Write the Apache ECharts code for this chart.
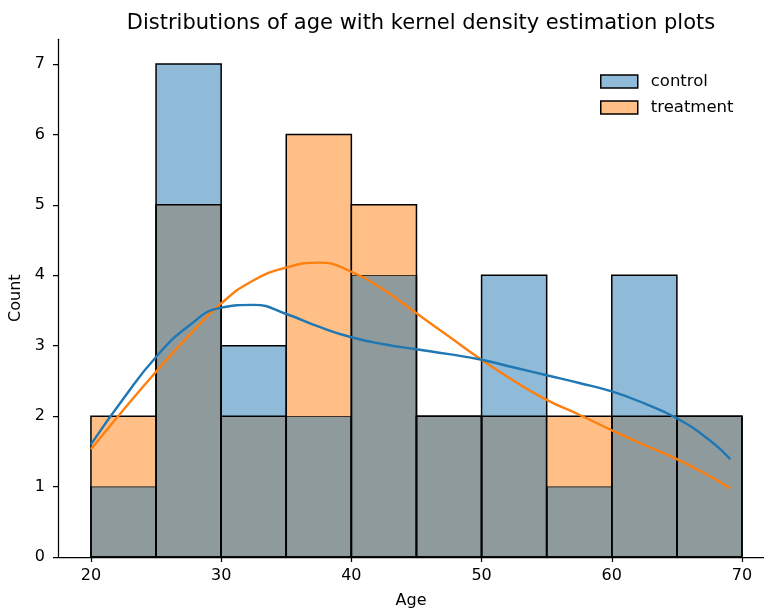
<!DOCTYPE html>
<html>
<head>
<meta charset="utf-8">
<script src="https://cdn.jsdelivr.net/npm/echarts@6/dist/echarts.min.js"></script>
<style>
  html, body { margin: 0; padding: 0; background: #fff; }
  #chart { width: 764px; height: 610px; }
</style>
</head>
<body>
<div id="chart"></div>
<script>
// histogram bins (age, width 5)
const binStarts = [20, 25, 30, 35, 40, 45, 50, 55, 60, 65];
const binWidth = 5;
const controlCounts = [1, 7, 3, 2, 4, 2, 4, 1, 4, 2];
const treatmentCounts = [2, 5, 2, 6, 5, 2, 2, 2, 2, 2];

// kernel density curves (scaled to counts)
const kdeAges = [20, 22.5, 25, 27.5, 30, 32.5, 35, 37.5, 40, 42.5, 45, 47.5, 50, 52.5, 55, 57.5, 60, 62.5, 65, 67.5, 69.1];
const controlKde = [1.60, 2.25, 2.84, 3.28, 3.54, 3.58, 3.45, 3.27, 3.12, 3.02, 2.95, 2.88, 2.80, 2.69, 2.58, 2.47, 2.35, 2.18, 1.97, 1.66, 1.39];
const treatmentKde = [1.53, 2.09, 2.63, 3.14, 3.60, 3.93, 4.11, 4.18, 4.05, 3.79, 3.46, 3.13, 2.80, 2.50, 2.23, 2.02, 1.80, 1.59, 1.39, 1.15, 0.975];

const yTicks = [0, 1, 2, 3, 4, 5, 6, 7];
const xTicks = [20, 30, 40, 50, 60, 70];

const BLUE = '#1f77b4', ORANGE = '#ff7f0e';
const BLUE_FILL = '#8fbbd9', ORANGE_FILL = '#ffbf86', BOTH_FILL = '#8e9a9b';
const FONT = 'DejaVu Sans';

const binData = binStarts.map((s, i) => [s, s + binWidth, controlCounts[i], treatmentCounts[i]]);

function rect(api, x0, x1, y0, y1, style) {
  const a = api.coord([x0, y1]);
  const b = api.coord([x1, y0]);
  return { type: 'rect', shape: { x: a[0], y: a[1], width: b[0] - a[0], height: b[1] - a[1] }, style: style };
}

function renderControl(params, api) {
  const x0 = api.value(0), x1 = api.value(1), c = api.value(2), t = api.value(3);
  const low = Math.min(c, t);
  const children = [rect(api, x0, x1, 0, low, { fill: BOTH_FILL })];
  if (c > t) children.push(rect(api, x0, x1, t, c, { fill: BLUE_FILL }));
  children.push(rect(api, x0, x1, 0, c, { fill: 'none', stroke: '#000', lineWidth: 1.5 }));
  return { type: 'group', children: children };
}

function renderTreatment(params, api) {
  const x0 = api.value(0), x1 = api.value(1), c = api.value(2), t = api.value(3);
  const children = [];
  if (t > c) children.push(rect(api, x0, x1, c, t, { fill: ORANGE_FILL }));
  children.push(rect(api, x0, x1, 0, t, { fill: 'none', stroke: '#000', lineWidth: 1.5 }));
  return { type: 'group', children: children };
}

const chart = echarts.init(document.getElementById('chart'));

const option = {
  animation: false,
  backgroundColor: '#fff',
  title: {
    text: 'Distributions of age with kernel density estimation plots',
    left: 416,
    top: 8,
    textAlign: 'center',
    textStyle: { fontFamily: FONT, fontSize: 21, fontWeight: 'normal', color: '#000' }
  },
  legend: {
    left: 600,
    top: 73,
    padding: 0,
    orient: 'vertical',
    itemWidth: 37,
    itemHeight: 13,
    itemGap: 9,
    icon: 'rect',
    textStyle: { fontFamily: FONT, fontSize: 16.5, color: '#000', padding: [0, 0, 0, 8] },
    data: [
      { name: 'control', itemStyle: { color: BLUE_FILL, borderColor: '#000', borderWidth: 1.5 } },
      { name: 'treatment', itemStyle: { color: ORANGE_FILL, borderColor: '#000', borderWidth: 1.5 } }
    ]
  },
  grid: { left: 58, top: 39.3, right: 0, bottom: 53, containLabel: false, outerBoundsMode: 'none' },
  xAxis: {
    type: 'value',
    min: 17.47,
    max: 71.69,
    name: 'Age',
    nameLocation: 'middle',
    nameGap: 36,
    nameTextStyle: { fontFamily: FONT, fontSize: 16, color: '#000' },
    axisLine: { lineStyle: { color: '#000', width: 1.25 } },
    axisTick: { show: true, length: 5, customValues: xTicks, lineStyle: { color: '#000', width: 1.25 } },
    axisLabel: { customValues: xTicks, margin: 11, fontFamily: FONT, fontSize: 16, color: '#000' },
    splitLine: { show: false }
  },
  yAxis: {
    type: 'value',
    min: 0,
    max: 7.35,
    name: 'Count',
    nameLocation: 'middle',
    nameGap: 31,
    nameRotate: 90,
    nameTextStyle: { fontFamily: FONT, fontSize: 16, color: '#000' },
    axisLine: { show: true, lineStyle: { color: '#000', width: 1.25 } },
    axisTick: { show: true, length: 5, customValues: yTicks, lineStyle: { color: '#000', width: 1.25 } },
    axisLabel: { customValues: yTicks, margin: 13, fontFamily: FONT, fontSize: 16, color: '#000' },
    splitLine: { show: false }
  },
  series: [
    {
      name: 'control',
      type: 'custom',
      renderItem: renderControl,
      itemStyle: { color: BLUE_FILL },
      data: binData,
      z: 2
    },
    {
      name: 'treatment',
      type: 'custom',
      renderItem: renderTreatment,
      itemStyle: { color: ORANGE_FILL },
      data: binData,
      z: 3
    },
    {
      name: 'control KDE',
      type: 'line',
      smooth: 0.5,
      showSymbol: false,
      data: kdeAges.map((x, i) => [x, controlKde[i]]),
      lineStyle: { color: BLUE, width: 2.4 },
      z: 5
    },
    {
      name: 'treatment KDE',
      type: 'line',
      smooth: 0.5,
      showSymbol: false,
      data: kdeAges.map((x, i) => [x, treatmentKde[i]]),
      lineStyle: { color: ORANGE, width: 2.4 },
      z: 4
    }
  ]
};

chart.setOption(option);
</script>
</body>
</html>
